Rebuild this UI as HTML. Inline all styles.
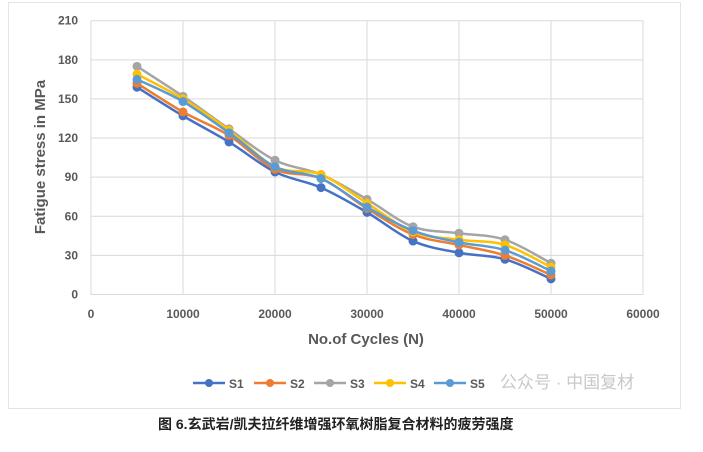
<!DOCTYPE html><html><head><meta charset="utf-8"><style>
body{margin:0;background:#fff;width:703px;height:447px;overflow:hidden;font-family:"Liberation Sans","Noto Sans CJK SC",sans-serif}
</style></head><body>
<svg id="s" width="703" height="447" xmlns="http://www.w3.org/2000/svg" font-family="Liberation Sans, Noto Sans CJK SC, sans-serif">
<rect x="8.5" y="2.5" width="672" height="406" fill="#fff" stroke="#e4e4e4"/>
<g id="grid" stroke="#d9d9d9" stroke-width="1"></g>
<g id="lab" font-size="12" font-weight="bold" fill="#595959"></g>
<text x="0" y="0" transform="translate(45,157) rotate(-90)" text-anchor="middle" font-size="15" font-weight="bold" fill="#595959">Fatigue stress in MPa</text>
<text x="366" y="344" text-anchor="middle" font-size="15" font-weight="bold" fill="#595959">No.of Cycles (N)</text>
<g id="ser"></g>
<g id="leg" font-size="12" font-weight="bold" fill="#595959"></g>
<text x="500" y="388" font-size="17" fill="#c8c8c8">公众号 · 中国复材</text>
<text x="158" y="429" font-size="14" font-weight="bold" fill="#222">图 6.玄武岩/凯夫拉纤维增强环氧树脂复合材料的疲劳强度</text>
</svg>
<script>
var ns="http://www.w3.org/2000/svg";
function X(v){return 91+v*552/60000}function Y(v){return 294.5-v*273.8/210}
function el(p,t,a,txt){var e=document.createElementNS(ns,t);for(var k in a)e.setAttribute(k,a[k]);if(txt!=null)e.textContent=txt;document.getElementById(p).appendChild(e);return e}
for(var i=0;i<=7;i++){var y=Y(i*30);el("grid","line",{x1:91,x2:643,y1:y,y2:y});el("lab","text",{x:78,y:y+4,"text-anchor":"end"},i*30)}
for(var i=0;i<=6;i++){var x=X(i*10000);el("grid","line",{x1:x,x2:x,y1:Y(210),y2:Y(0)});el("lab","text",{x:x,y:318,"text-anchor":"middle"},i*10000)}
var D=[["#4472C4",[159,137,117,94,82,63,41,32,27,12]],["#ED7D31",[162,140,122,96,89,66,46,38,30,15]],["#A5A5A5",[175,152,127,103,92,73,52,47,42,24]],["#FFC000",[169,150,126,98,92,70,48,42,38,21]],["#5B9BD5",[165,148,124,98,89,67,49,40,34,18]]];
D.forEach(function(s){var p=s[1].map(function(v,i){return[X((i+1)*5000),Y(v)]});
var d="M"+p[0];for(var i=0;i<p.length-1;i++){var a=p[i-1]||p[i],b=p[i],c=p[i+1],e=p[i+2]||c;
d+=" C"+(b[0]+(c[0]-a[0])/6)+","+(b[1]+(c[1]-a[1])/6)+" "+(c[0]-(e[0]-b[0])/6)+","+(c[1]-(e[1]-b[1])/6)+" "+c}
el("ser","path",{d:d,fill:"none",stroke:s[0],"stroke-width":2.5});
p.forEach(function(q){el("ser","circle",{cx:q[0],cy:q[1],r:4.5,fill:s[0]})})});
var lx=[193,254,314,374,434];
D.forEach(function(s,i){var x=lx[i];el("leg","line",{x1:x,x2:x+32,y1:383,y2:383,stroke:s[0],"stroke-width":2.5});el("leg","circle",{cx:x+16,cy:383,r:4,fill:s[0]});el("leg","text",{x:x+36,y:388},"S"+(i+1))});
</script>
</body></html>
